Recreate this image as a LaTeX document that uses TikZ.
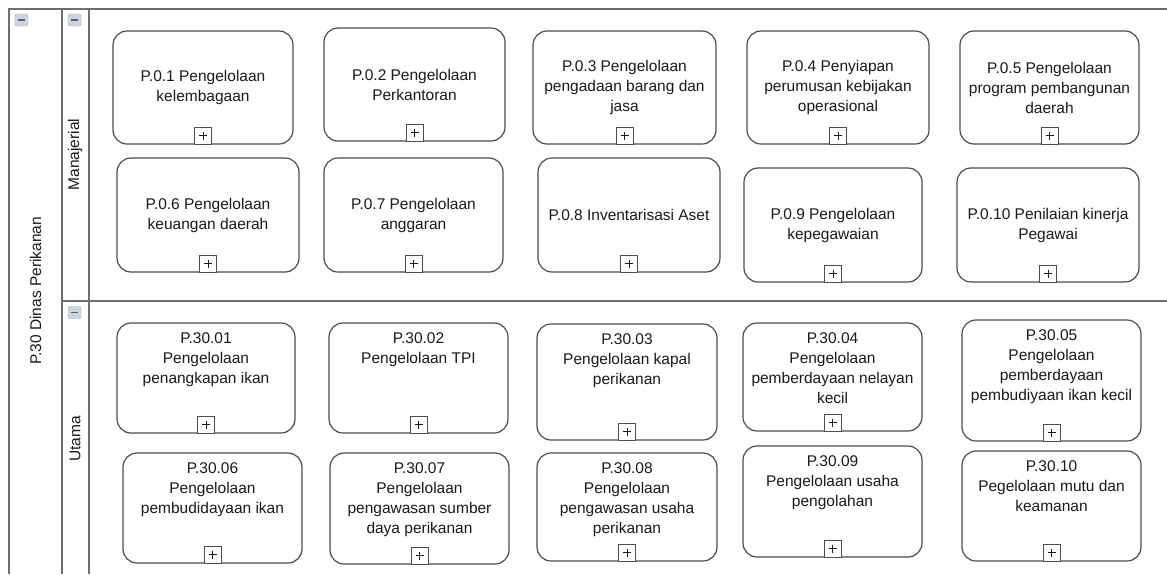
\documentclass[tikz,border=0pt]{standalone}
\usepackage{fontspec}
\setmainfont{Liberation Sans}
\usepackage{xcolor}
\usepackage{tikz}
\usetikzlibrary{positioning}
\definecolor{ink}{HTML}{1A1A1A}
\definecolor{frame}{HTML}{6E6E6E}
\definecolor{edge}{HTML}{4D4D4D}
\definecolor{knob}{HTML}{C9D5E2}
\definecolor{knobline}{HTML}{9DAEC1}

\begin{document}
\begin{tikzpicture}[x=1pt,y=-1pt,font=\fontsize{15.5}{20}\selectfont,
  task/.style={draw=edge,line width=1.2pt,rounded corners=14pt,fill=white,inner sep=0pt},
  tasktext/.style={align=center,inner sep=0pt,text=ink},
  plusbox/.style={draw=edge,line width=1pt,fill=white,minimum size=17pt,inner sep=0pt,anchor=south,
    path picture={\draw[ink,line width=0.9pt] ([xshift=-4pt]path picture bounding box.center) -- ([xshift=4pt]path picture bounding box.center)
      ([yshift=-4pt]path picture bounding box.center) -- ([yshift=4pt]path picture bounding box.center);}},
  knobbox/.style={draw=knobline,fill=knob,rounded corners=1.5pt,minimum width=13pt,minimum height=12pt,inner sep=0pt,
    path picture={\draw[ink!70,line width=1.4pt] ([xshift=-3.5pt]path picture bounding box.center) -- ([xshift=3.5pt]path picture bounding box.center);}},
  frameline/.style={frame,line width=2pt},
  headtext/.style={rotate=90,inner sep=0pt,text=ink}]
\useasboundingbox (0,0) rectangle (1167,574);

\draw[frameline] (9,574) -- (9,9) -- (1167,9);
\draw[frameline] (62,9) -- (62,574);
\draw[frameline] (89,9) -- (89,574);
\draw[frameline] (62,301) -- (1167,301);
\node[knobbox] (poolknob) at (21.5,20) {};
\node[knobbox] (manknob) at (74.5,20) {};
\node[knobbox] (utamaknob) at (74.5,312.5) {};
\node[headtext] (pool) at (35.5,291) {P.30 Dinas Perikanan};
\node[headtext] (manajerial) at (75,154.5) {Manajerial};
\node[headtext] (utama) at (75,439) {Utama};

\begin{scope}
\node[task,minimum width=180pt,minimum height=113pt] (p01) at (203,87.5) {};
\node[task,minimum width=181pt,minimum height=113pt] (p02) at (414.5,84.5) {};
\node[task,minimum width=183pt,minimum height=113pt] (p03) at (624.5,87.5) {};
\node[task,minimum width=182pt,minimum height=113pt] (p04) at (838,87.5) {};
\node[task,minimum width=179pt,minimum height=113pt] (p05) at (1049.5,87.5) {};
\node[task,minimum width=182pt,minimum height=114pt] (p06) at (208,215) {};
\node[task,minimum width=179pt,minimum height=114pt] (p07) at (413.5,215) {};
\node[task,minimum width=182pt,minimum height=114pt] (p08) at (629,215) {};
\node[task,minimum width=178pt,minimum height=114pt] (p09) at (833,225) {};
\node[task,minimum width=182pt,minimum height=114pt] (p10) at (1048,225) {};
\node[tasktext] (p01t) at (p01) {P.0.1 Pengelolaan\\kelembagaan};
\node[tasktext] (p02t) at (p02) {P.0.2 Pengelolaan\\Perkantoran};
\node[tasktext] (p03t) at (p03) {P.0.3 Pengelolaan\\pengadaan barang dan\\jasa};
\node[tasktext] (p04t) at (p04) {P.0.4 Penyiapan\\perumusan kebijakan\\operasional};
\node[tasktext] (p05t) at (p05) {P.0.5 Pengelolaan\\program pembangunan\\daerah};
\node[tasktext] (p06t) at (p06) {P.0.6 Pengelolaan\\keuangan daerah};
\node[tasktext] (p07t) at (p07) {P.0.7 Pengelolaan\\anggaran};
\node[tasktext] (p08t) at (p08) {P.0.8 Inventarisasi Aset};
\node[tasktext] (p09t) at (p09) {P.0.9 Pengelolaan\\kepegawaian};
\node[tasktext] (p10t) at (p10) {P.0.10 Penilaian kinerja\\Pegawai};
\foreach \n in {p01,p02,p03,p04,p05,p06,p07,p08,p09,p10}
  \node[plusbox] (\n plus) at (\n.south) {};
\end{scope}

\begin{scope}
\node[task,minimum width=178pt,minimum height=110pt] (u01) at (206,378) {};
\node[task,minimum width=179pt,minimum height=110pt] (u02) at (418.5,378) {};
\node[task,minimum width=180pt,minimum height=116pt] (u03) at (627,382) {};
\node[task,minimum width=179pt,minimum height=108pt] (u04) at (832.5,377) {};
\node[task,minimum width=179pt,minimum height=121pt] (u05) at (1051.5,380.5) {};
\node[task,minimum width=179pt,minimum height=110pt] (u06) at (212.5,508) {};
\node[task,minimum width=179pt,minimum height=111pt] (u07) at (419.5,508.5) {};
\node[task,minimum width=180pt,minimum height=108pt] (u08) at (627,507) {};
\node[task,minimum width=179pt,minimum height=111pt] (u09) at (832.5,501.5) {};
\node[task,minimum width=179pt,minimum height=110pt] (u10) at (1051.5,506) {};
\node[tasktext,anchor=north] (u01t) at ([yshift=-10.5pt]u01.north) {P.30.01\\Pengelolaan\\penangkapan ikan};
\node[tasktext,anchor=north] (u02t) at ([yshift=-10.5pt]u02.north) {P.30.02\\Pengelolaan TPI};
\node[tasktext,anchor=north] (u03t) at ([yshift=-10.5pt]u03.north) {P.30.03\\Pengelolaan kapal\\perikanan};
\node[tasktext,anchor=north] (u04t) at ([yshift=-10.5pt]u04.north) {P.30.04\\Pengelolaan\\pemberdayaan nelayan\\kecil};
\node[tasktext,anchor=north] (u05t) at ([yshift=-10.5pt]u05.north) {P.30.05\\Pengelolaan\\pemberdayaan\\pembudiyaan ikan kecil};
\node[tasktext,anchor=north] (u06t) at ([yshift=-10.5pt]u06.north) {P.30.06\\Pengelolaan\\pembudidayaan ikan};
\node[tasktext,anchor=north] (u07t) at ([yshift=-10.5pt]u07.north) {P.30.07\\Pengelolaan\\pengawasan sumber\\daya perikanan};
\node[tasktext,anchor=north] (u08t) at ([yshift=-10.5pt]u08.north) {P.30.08\\Pengelolaan\\pengawasan usaha\\perikanan};
\node[tasktext,anchor=north] (u09t) at ([yshift=-10.5pt]u09.north) {P.30.09\\Pengelolaan usaha\\pengolahan};
\node[tasktext,anchor=north] (u10t) at ([yshift=-10.5pt]u10.north) {P.30.10\\Pegelolaan mutu dan\\keamanan};
\foreach \n in {u01,u02,u03,u04,u05,u06,u07,u08,u09,u10}
  \node[plusbox] (\n plus) at (\n.south) {};
\end{scope}
\end{tikzpicture}
\end{document}
